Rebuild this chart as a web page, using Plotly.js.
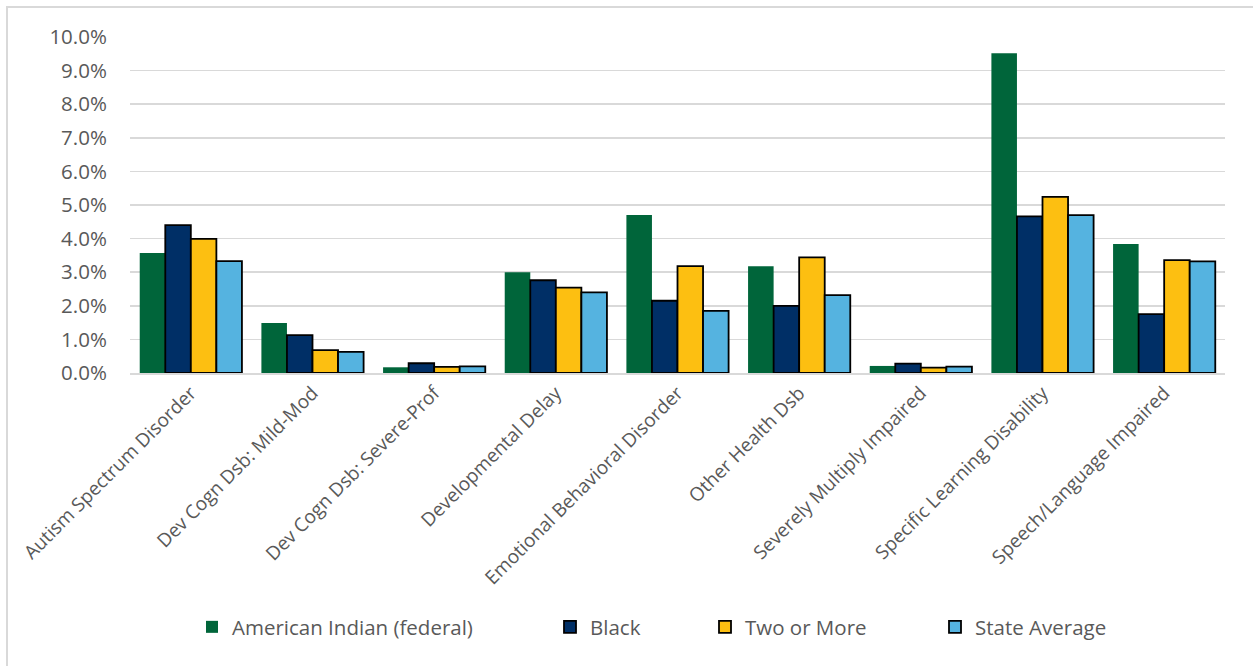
<!DOCTYPE html>
<html>
<head>
<meta charset="utf-8">
<script src="https://cdn.plot.ly/plotly-3.0.1.min.js"></script>
<style>
html,body{margin:0;padding:0;background:#fff;overflow:hidden;}
#frame{position:absolute;left:6px;top:6px;width:1270px;height:680px;border:2px solid #d9d9d9;box-sizing:border-box;pointer-events:none;z-index:5;}
#chart{position:absolute;left:0;top:0;width:1253px;height:666px;}
</style>
</head>
<body>
<div id="chart"></div>
<div id="frame"></div>
<script>
const categories = ["Autism Spectrum Disorder","Dev Cogn Dsb: Mild-Mod","Dev Cogn Dsb: Severe-Prof","Developmental Delay","Emotional Behavioral Disorder","Other Health Dsb","Severely Multiply Impaired","Specific Learning Disability","Speech/Language Impaired"];
const americanIndian = [0.0357,0.0149,0.0017,0.0300,0.0470,0.0318,0.0021,0.0952,0.0384];
const black =          [0.0440,0.0113,0.0029,0.0276,0.0215,0.0200,0.0028,0.0466,0.0175];
const twoOrMore =      [0.0399,0.0068,0.0018,0.0254,0.0318,0.0344,0.0016,0.0524,0.0336];
const stateAverage =   [0.0333,0.0063,0.0020,0.0240,0.0185,0.0232,0.0019,0.0470,0.0332];
const seriesNames = ["American Indian (federal)","Black","Two or More","State Average"];
const colors = ["#00653A","#002F66","#FDBF11","#55B3E0"];

const values = [americanIndian, black, twoOrMore, stateAverage];
const legendIds = ['legend','legend2','legend3','legend4'];
const traces = values.map((v,i)=>({
  type:'bar', x:categories, y:v, name:seriesNames[i], legend:legendIds[i],
  marker:{color:colors[i], line:{color: i===0 ? colors[0] : '#000000', width: i===0 ? 0 : 1.8}}
}));

const plotL = 130, plotW = 1095;
const legendPx = [192, 550, 705, 935];
const legendFont = {family:'"Open Sans", sans-serif', size:20.5, color:'#595959'};
const layout = {
  width:1253, height:666,
  margin:{l:130, r:28, t:37, b:293},
  paper_bgcolor:'#ffffff', plot_bgcolor:'#ffffff',
  barmode:'group', bargap:0.16, bargroupgap:0,
  font:{family:'"Open Sans", sans-serif', color:'#595959', size:17},
  xaxis:{tickangle:-45, tickfont:{size:19, color:'#595959'}, showline:true, linecolor:'#d9d9d9', linewidth:1.5, ticks:'', automargin:false},
  yaxis:{range:[0,0.1], dtick:0.01, tickformat:'.1%', gridcolor:'#d9d9d9', gridwidth:1.5, zeroline:false, ticks:'outside', ticklen:18, tickcolor:'rgba(0,0,0,0)', tickfont:{size:20.5, color:'#595959'}, automargin:false},
  showlegend:true
};
legendIds.forEach((id,i)=>{
  layout[id] = {orientation:'h', x:(legendPx[i]-plotL)/plotW, xanchor:'left', y:-0.756, yanchor:'middle', font:legendFont, bgcolor:'rgba(0,0,0,0)', itemwidth:30};
});
Plotly.newPlot('chart', traces, layout, {displayModeBar:false, staticPlot:true});
</script>
</body>
</html>
